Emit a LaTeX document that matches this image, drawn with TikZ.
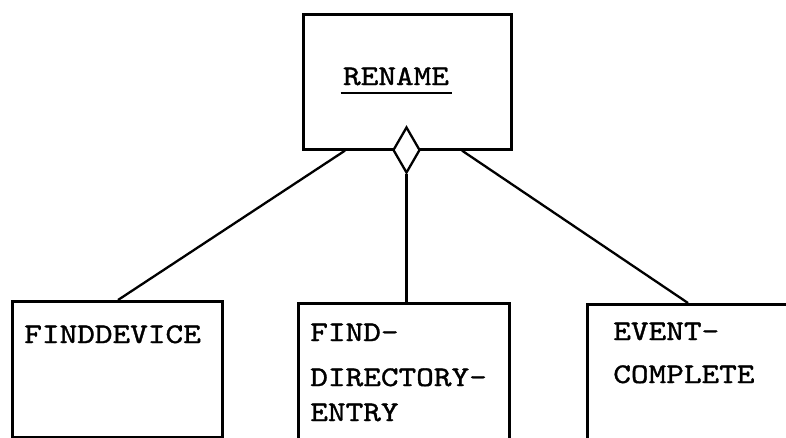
\documentclass[tikz,border=0pt]{standalone}
\usepackage{fontspec}
\newfontfamily\twfont{lmmono10-regular.otf}[FakeBold=1.2, FakeStretch=1.18]
\usetikzlibrary{shapes.geometric}
\newcommand{\twtext}[1]{{\twfont\fontsize{28.5pt}{34pt}\selectfont #1}}
\begin{document}
\begin{tikzpicture}[x=1pt,y=-1pt, line width=2.6pt,
  box/.style={draw, rectangle, inner sep=0pt, anchor=north west},
  lbl/.style={anchor=base west, inner sep=0pt},
  link/.style={line width=2.3pt}]
\useasboundingbox (0,0) rectangle (786,437);
\clip (0,0) rectangle (786,437);
\fill[white] (0,0) rectangle (786,437);
% boxes
\node[box, minimum width=208pt, minimum height=135pt] (ren) at (302,13) {};
\node[box, minimum width=210pt, minimum height=136pt] (fd) at (11,300) {};
\node[box, minimum width=211pt, minimum height=136pt] (mid) at (297,302) {};
\node[box, minimum width=220pt, minimum height=136pt] (ev) at (586,303) {};
% texts
\node[lbl, anchor=base] (rt) at (396,85) {\twtext{RENAME}};
\draw[line width=1.8pt] ([shift={(-1pt,-8pt)}]rt.base west) -- ([shift={(2pt,-8pt)}]rt.base east);
\node[lbl] (t1) at (23,343) {\twtext{FINDDEVICE}};
\node[lbl] (t2) at (309,341) {\twtext{FIND-}};
\node[lbl] (t3) at (309,386) {\twtext{DIRECTORY-}};
\node[lbl] (t4) at (309,421) {\twtext{ENTRY}};
\node[lbl] (t5) at (612,340) {\twtext{EVENT-}};
\node[lbl] (t6) at (612,383) {\twtext{COMPLETE}};
% connectors
\draw[link] ([xshift=43pt]ren.south west) -- ([xshift=107pt]fd.north west);
\draw[link] ([xshift=160pt]ren.south west) -- ([xshift=102pt]ev.north west);
\node[draw, diamond, fill=white, inner sep=0pt, minimum width=27pt, minimum height=46pt, line width=2.3pt] (dia) at (406.5,150) {};
\draw[link] (dia.south) -- (dia.south |- mid.north);
\end{tikzpicture}
\end{document}
